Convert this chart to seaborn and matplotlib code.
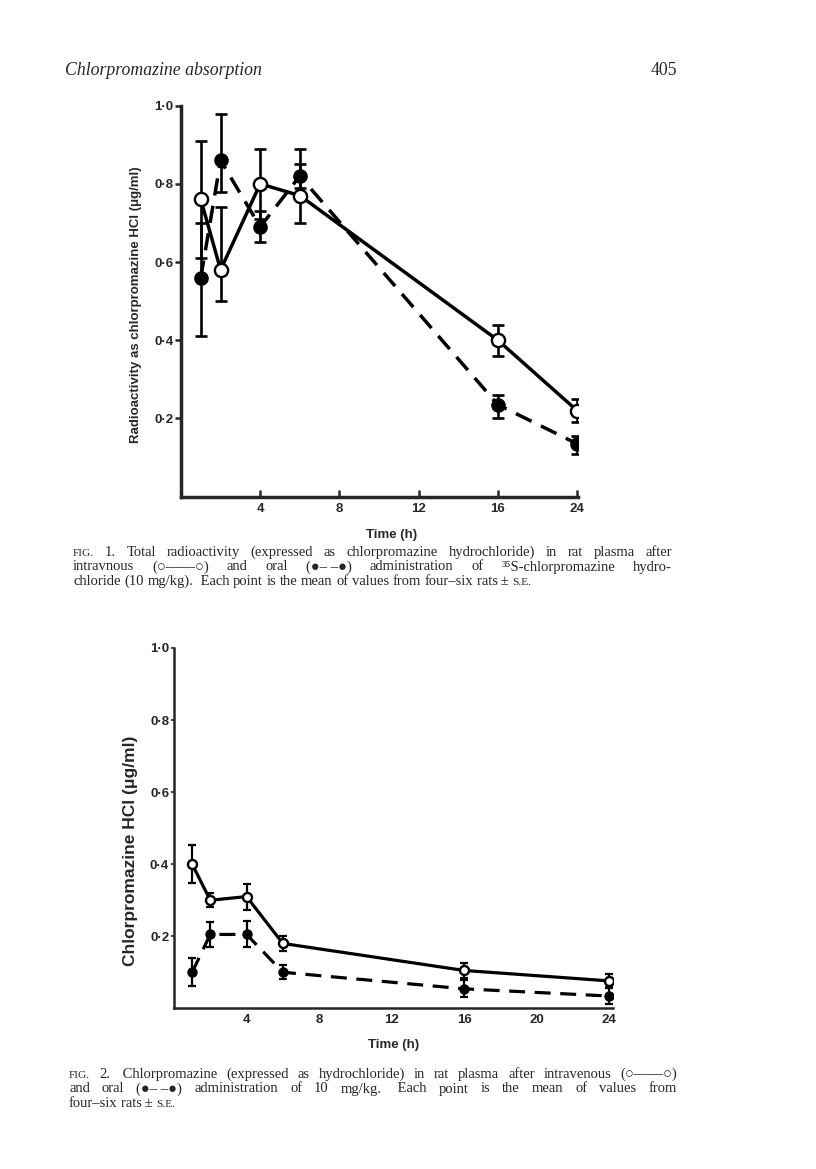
import numpy as np
import pandas as pd
import matplotlib
matplotlib.use("Agg")
import matplotlib.pyplot as plt
import seaborn as sns

# sampling times (h)
hours = [1, 2, 4, 6, 16, 24]

# Fig. 1 - total radioactivity as chlorpromazine HCl (ug/ml)
fig1_iv = [0.76, 0.58, 0.80, 0.77, 0.40, 0.22]
fig1_iv_lo = [0.15, 0.08, 0.09, 0.07, 0.04, 0.03]
fig1_iv_hi = [0.15, 0.16, 0.09, 0.12, 0.04, 0.03]
fig1_oral = [0.56, 0.86, 0.69, 0.82, 0.235, 0.135]
fig1_oral_lo = [0.15, 0.08, 0.04, 0.03, 0.035, 0.025]
fig1_oral_hi = [0.14, 0.12, 0.04, 0.03, 0.025, 0.02]

# Fig. 2 - chlorpromazine HCl (ug/ml)
fig2_iv = [0.40, 0.30, 0.31, 0.18, 0.105, 0.076]
fig2_iv_err = [0.052, 0.02, 0.036, 0.022, 0.021, 0.018]
fig2_oral = [0.10, 0.205, 0.205, 0.10, 0.054, 0.034]
fig2_oral_err = [0.039, 0.035, 0.036, 0.02, 0.024, 0.021]

fig1_xticks = [4, 8, 12, 16, 24]
fig2_xticks = [4, 8, 12, 16, 20, 24]
yticks = [0.2, 0.4, 0.6, 0.8, 1.0]
ytick_labels = ["0·2", "0·4", "0·6", "0·8", "1·0"]

header_left = "Chlorpromazine absorption"
header_right = "405"
fig1_ylabel = "Radioactivity as chlorpromazine HCl (\u03bcg/ml)"
fig2_ylabel = "Chlorpromazine HCl (\u03bcg/ml)"
xlabel = "Time (h)"

SC = 0.78  # small caps size factor
cap1 = [
    [("FIG.", SC), "1.", "Total", "radioactivity", "(expressed", "as", "chlorpromazine",
     "hydrochloride)", "in", "rat", "plasma", "after"],
    ["intravnous", "(\u25cb\u2014\u2014\u25cb)", "and", "oral", "(\u25cf\u2013 \u2013\u25cf)",
     "administration", "of", "\u00b3\u2075S-chlorpromazine", "hydro-"],
    ["chloride", "(10", "mg/kg).", " Each", "point", "is", "the", "mean", "of", "values",
     "from", "four\u2013six", "rats\u2009\u00b1", ("S.E.", SC)],
]
cap2 = [
    [("FIG.", SC), "2.", " Chlorpromazine", "(expressed", "as", "hydrochloride)", "in", "rat",
     "plasma", "after", "intravenous", "(\u25cb\u2014\u2014\u25cb)"],
    ["and", "oral", "(\u25cf\u2013 \u2013\u25cf)", "administration", "of", "10", "mg/kg.",
     " Each", "point", "is", "the", "mean", "of", "values", "from"],
    ["four\u2013six", "rats\u2009\u00b1", ("S.E.", SC)],
]

W, H = 816, 1169
SANS = ["Liberation Sans", "DejaVu Sans"]
SERIF = ["Liberation Serif", "DejaVu Serif", "DejaVu Sans"]

sns.set_style("ticks")
plt.rcParams["font.family"] = SANS
plt.rcParams["font.weight"] = "bold"

fig = plt.figure(figsize=(W / 100, H / 100), dpi=100)


def fx(px):
    return px / W


def fy(py):
    return 1 - py / H


# fig. 1 squeezes the 16-24 h stretch into one 4 h interval
def fwd(x):
    x = np.asarray(x, dtype=float)
    return np.where(x <= 16, x, 16 + (x - 16) / 2)


def inv(u):
    u = np.asarray(u, dtype=float)
    return np.where(u <= 16, u, 16 + (u - 16) * 2)


dash = (5, 3)


def draw_panel(ax, mean_iv, err_iv, mean_oral, err_oral, ms, cap, elw, lw):
    df_iv = pd.DataFrame({"t": hours, "c": mean_iv})
    df_or = pd.DataFrame({"t": hours, "c": mean_oral})
    ax.errorbar(hours, mean_oral, yerr=err_oral, fmt="none", ecolor="black",
                elinewidth=elw, capsize=cap, capthick=elw, zorder=2)
    ax.errorbar(hours, mean_iv, yerr=err_iv, fmt="none", ecolor="black",
                elinewidth=elw, capsize=cap, capthick=elw, zorder=2)
    sns.lineplot(data=df_or, x="t", y="c", ax=ax, color="black", lw=lw,
                 errorbar=None, zorder=3)
    ax.lines[-1].set_dashes(dash)
    sns.lineplot(data=df_iv, x="t", y="c", ax=ax, color="black", lw=lw,
                 errorbar=None, zorder=3)
    ax.plot(hours, mean_oral, "o", ms=ms, mfc="black", mec="black", zorder=4)
    ax.plot(hours, mean_iv, "o", ms=ms, mfc="white", mec="black", mew=1.7, zorder=5)
    for s in ["top", "right"]:
        ax.spines[s].set_visible(False)


# ---- Fig. 1 ----
ax1 = fig.add_axes([fx(181), fy(496.5), fx(397), 390.8 / H])
ax1.set_xscale("function", functions=(fwd, inv))
draw_panel(ax1, fig1_iv, [fig1_iv_lo, fig1_iv_hi], fig1_oral,
           [fig1_oral_lo, fig1_oral_hi], 9.5, 4, 1.9, 2.5)
ax1.set_xlim(0, 24.1)
ax1.set_ylim(0, 1.0)
ax1.set_xticks(fig1_xticks, labels=[str(v) for v in fig1_xticks])
ax1.set_yticks(yticks, labels=ytick_labels)
ax1.tick_params(axis="x", direction="in", length=5, width=1.8, pad=5, labelsize=9.5)
ax1.tick_params(axis="y", direction="out", length=4.5, width=1.8, pad=1, labelsize=9.5)
for s in ["left", "bottom"]:
    ax1.spines[s].set_linewidth(2.5)
ax1.set_xlabel(xlabel, fontsize=9.5, fontweight="bold")
ax1.set_ylabel(fig1_ylabel, fontsize=9.5, fontweight="bold")
ax1.xaxis.set_label_coords(0.53, -0.083)
ax1.yaxis.set_label_coords(-0.098, 0.49)

# ---- Fig. 2 ----
ax2 = fig.add_axes([fx(174), fy(1008.3), fx(439), 360.3 / H])
draw_panel(ax2, fig2_iv, fig2_iv_err, fig2_oral, fig2_oral_err, 6.5, 3, 1.6, 2.3)
ax2.set_xlim(0, 24.2)
ax2.set_ylim(0, 1.0)
ax2.set_xticks(fig2_xticks, labels=[str(v) for v in fig2_xticks])
ax2.set_yticks(yticks, labels=ytick_labels)
ax2.tick_params(axis="x", length=0, pad=4, labelsize=9.5)
ax2.tick_params(axis="y", direction="out", length=2.5, width=1.2, pad=1, labelsize=9.5)
for s in ["left", "bottom"]:
    ax2.spines[s].set_linewidth(1.8)
ax2.set_xlabel(xlabel, fontsize=9.5, fontweight="bold")
ax2.set_ylabel(fig2_ylabel, fontsize=12.5, fontweight="bold")
ax2.xaxis.set_label_coords(0.5, -0.085)
ax2.yaxis.set_label_coords(-0.082, 0.436)

# ---- page text ----
fig.text(fx(65), fy(75), header_left, family=SERIF, style="italic",
         fontweight="normal", fontsize=12.8, va="baseline")
fig.text(fx(677), fy(75), header_right, family=SERIF, fontweight="normal",
         fontsize=12.8, va="baseline", ha="right")

renderer = fig.canvas.get_renderer()


def paragraph(lines, x0, x1, y0, lh, size):
    # justified lines, last one set ragged
    space = size * 1.389 * 0.25
    for i, words in enumerate(lines):
        y = y0 + i * lh
        objs = []
        for w in words:
            txt, k = w if isinstance(w, tuple) else (w, 1.0)
            t = fig.text(0, fy(y), txt, family=SERIF, fontweight="normal",
                         fontsize=size * k, va="baseline")
            objs.append((t, t.get_window_extent(renderer).width))
        total = sum(wd for _, wd in objs)
        if i < len(lines) - 1 and len(objs) > 1:
            gap = (x1 - x0 - total) / (len(objs) - 1)
        else:
            gap = space
        x = x0
        for t, wd in objs:
            t.set_x(fx(x))
            x += wd + gap


paragraph(cap1, 73, 672, 556, 14.5, 10.5)
paragraph(cap2, 69, 677, 1078, 14.5, 10.5)

fig.savefig("out.png", dpi=100)
